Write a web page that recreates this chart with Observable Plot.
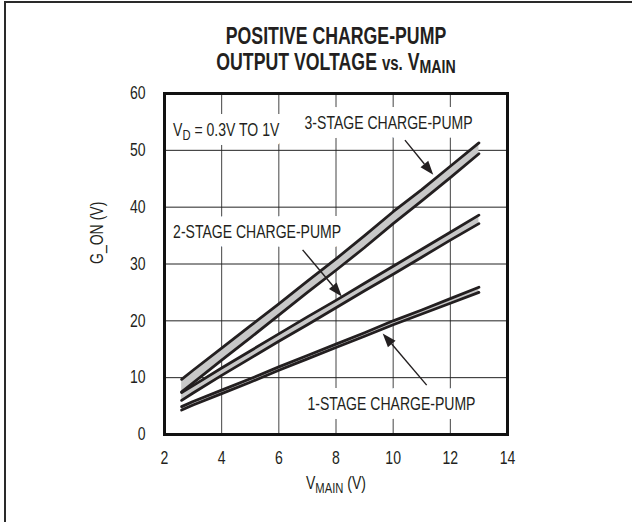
<!DOCTYPE html>
<html><head><meta charset="utf-8">
<script src="https://cdn.jsdelivr.net/npm/d3@7"></script>
<script src="https://cdn.jsdelivr.net/npm/@observablehq/plot@0.6"></script>
<style>
body{margin:0;background:#fff;}
#wrap{position:relative;width:632px;height:522px;overflow:hidden;background:#fff;font-family:"Liberation Sans",Arial,sans-serif;color:#231f20;}
#border{position:absolute;left:4px;top:1px;width:800px;height:800px;border-left:2px solid #2a2a2a;border-top:2px solid #2a2a2a;}
#title{position:absolute;left:0;top:23px;width:672px;text-align:center;font-weight:bold;font-size:23px;line-height:26px;transform:scaleX(0.77);transform-origin:336px 0;}
#title .sub{font-size:0.8em;position:relative;top:0.18em;}
#title .vs{font-size:0.85em;}
#chart{position:absolute;left:0;top:80px;}
</style></head><body>
<div id="wrap"><div id="border"></div>
<div id="title">POSITIVE CHARGE-PUMP<br>OUTPUT VOLTAGE <span class="vs">vs.</span> V<span class="sub">MAIN</span></div>
<div id="chart"></div></div>
<script>
// V_MAIN (V)
const vMain   = [2.6, 3, 4, 5, 6, 7, 8, 9, 10, 11, 12, 13];
// G_ON (V), upper / lower edge of each band (VD = 0.3V .. 1V)
const stage3Hi = [9.7, 11.3, 15.2, 19.1, 23.0, 27.0, 30.9, 35.0, 39.2, 43.1, 47.2, 51.3];
const stage3Lo = [7.5, 9.1, 13.1, 17.0, 21.0, 25.0, 28.9, 32.9, 37.1, 41.1, 45.2, 49.4];
const stage2Hi = [7.4, 8.6, 11.7, 14.7, 17.7, 20.7, 23.6, 26.6, 29.6, 32.6, 35.6, 38.6];
const stage2Lo = [6.0, 7.3, 10.4, 13.4, 16.4, 19.3, 22.3, 25.3, 28.2, 31.2, 34.2, 37.1];
const stage1Hi = [4.9, 5.8, 7.8, 9.8, 11.9, 13.9, 15.9, 17.9, 20.0, 21.9, 23.9, 25.9];
const stage1Lo = [4.3, 5.2, 7.2, 9.2, 11.3, 13.3, 15.3, 17.3, 19.3, 21.2, 23.1, 25.0];

const xTicks = [2, 4, 6, 8, 10, 12, 14];
const yTicks = [0, 10, 20, 30, 40, 50, 60];

const noteText = ["V_{D} = 0.3V TO 1V", "3-STAGE CHARGE-PUMP", "2-STAGE CHARGE-PUMP", "1-STAGE CHARGE-PUMP"];
const noteX = [2.3, 6.9, 2.3, 7.0];
const noteY = [53.5, 54.7, 35.6, 5.3];

const arrowX1 = [10.43, 6.85, 11.19];
const arrowY1 = [51.7, 32.4, 8.6];
const arrowX2 = [11.42, 8.22, 9.65];
const arrowY2 = [45.6, 24.2, 17.7];

const xLabel = "V_{MAIN} (V)";
const yLabel = "G_ON (V)";

const series = [
  {name: "3", hi: stage3Hi, lo: stage3Lo},
  {name: "2", hi: stage2Hi, lo: stage2Lo},
  {name: "1", hi: stage1Hi, lo: stage1Lo}
];
const rows = series.flatMap(s => vMain.map((x, i) => ({series: s.name, x, hi: s.hi[i], lo: s.lo[i]})));
const notes = noteText.map((t, i) => ({text: t, x: noteX[i], y: noteY[i]}));
const arrows = arrowX1.map((x1, i) => ({x1, y1: arrowY1[i], x2: arrowX2[i], y2: arrowY2[i]}));

const ink = "#231f20";
const narrow = 0.78;

function arrowMark(index, scales) {
  const g = d3.create("svg:g");
  for (const a of arrows) {
    const x1 = scales.x(a.x1), y1 = scales.y(a.y1), x2 = scales.x(a.x2), y2 = scales.y(a.y2);
    const ang = Math.atan2(y2 - y1, x2 - x1);
    const L = 14, W = 5;
    const bx = x2 - L * Math.cos(ang), by = y2 - L * Math.sin(ang);
    g.append("line").attr("x1", x1).attr("y1", y1).attr("x2", bx).attr("y2", by)
      .attr("stroke", ink).attr("stroke-width", 1.4);
    const px = -Math.sin(ang) * W, py = Math.cos(ang) * W;
    g.append("path")
      .attr("d", `M${x2},${y2}L${bx + px},${by + py}L${bx - px},${by - py}Z`)
      .attr("fill", ink);
  }
  return g.node();
}

const plot = Plot.plot({
  width: 632,
  height: 442,
  marginTop: 13,
  marginBottom: 88,
  marginLeft: 164,
  marginRight: 125,
  style: {background: "transparent", color: ink, fontFamily: "'Liberation Sans',Arial,sans-serif", fontSize: "18px", overflow: "visible"},
  x: {domain: [2, 14], ticks: xTicks, tickSize: 0, tickPadding: 17, label: null},
  y: {domain: [0, 60], ticks: yTicks, tickSize: 0, tickPadding: 19, label: null},
  marks: [
    Plot.ruleX(xTicks, {stroke: "#444", strokeWidth: 1}),
    Plot.ruleY(yTicks, {stroke: "#222", strokeWidth: 1}),
    Plot.text(notes, {x: "x", y: "y", text: "text", textAnchor: "start", fill: "white", stroke: "white", strokeWidth: 18, strokeLinejoin: "round"}),
    Plot.text(notes, {x: "x", y: "y", text: "text", textAnchor: "start", fill: ink}),
    Plot.areaY(rows, {x: "x", y1: "lo", y2: "hi", z: "series", fill: "#c8c8c8", curve: "linear"}),
    Plot.line(rows, {x: "x", y: "hi", z: "series", stroke: ink, strokeWidth: 2.8, curve: "linear"}),
    Plot.line(rows, {x: "x", y: "lo", z: "series", stroke: ink, strokeWidth: 2.8, curve: "linear"}),
    arrowMark,
    Plot.text([xLabel], {text: d => d, frameAnchor: "bottom", dy: 54, fill: ink}),
    Plot.text([yLabel], {text: d => d, frameAnchor: "left", dx: -67, rotate: -90, fill: ink}),
    Plot.frame({stroke: "#111", strokeWidth: 3})
  ]
});

const svgSel = d3.select(plot);
// render "_{...}" as subscripts
svgSel.selectAll("text").each(function () {
  const s = this.textContent;
  if (!s.includes("_{")) return;
  const parts = s.split(/_\{([^}]*)\}/);
  this.textContent = "";
  const el = d3.select(this);
  parts.forEach((p, i) => {
    if (!p) return;
    if (i % 2 === 1) el.append("tspan").attr("font-size", "0.8em").attr("dy", 4).text(p);
    else el.append("tspan").attr("dy", i > 0 ? -4 : 0).text(p);
  });
});
// condensed lettering: squeeze each text horizontally about its own anchor
svgSel.selectAll("text").each(function () {
  const x = parseFloat(this.getAttribute("x")) || 0;
  const t = this.getAttribute("transform") || "";
  this.setAttribute("transform", `${t} translate(${x},0) scale(${narrow},1) translate(${-x},0)`);
});

document.getElementById("chart").append(plot);
</script>
</body></html>
